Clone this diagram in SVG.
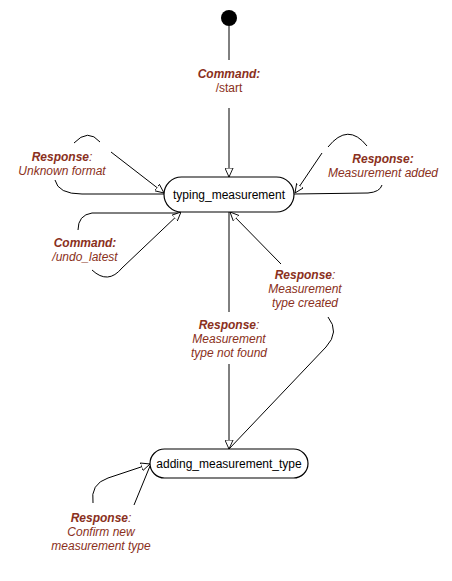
<svg xmlns="http://www.w3.org/2000/svg" width="452" height="581" viewBox="0 0 452 581">
<defs>
<marker id="arr" viewBox="0 0 10 10" refX="10" refY="5" markerWidth="9" markerHeight="9" markerUnits="userSpaceOnUse" orient="auto">
<path d="M0,0.5 L10,5 L0,9.5 Z" fill="#fff" stroke="#000" stroke-width="1"/>
</marker>
<style>
.node rect{fill:#fff;stroke:#000;stroke-width:1.2}
.node text{font-family:"Liberation Sans",Arial,sans-serif;font-size:12px;fill:#000;text-anchor:middle}
.edge{fill:none;stroke:#000;stroke-width:1}
.lbl{font-family:"Liberation Sans",Arial,sans-serif;font-size:12px;fill:#8a3020;text-anchor:middle;font-style:italic}
.b{font-weight:bold}
.n{font-style:normal}
</style>
</defs>
<rect width="452" height="581" fill="#fff"/>
<g id="connectors">
<path class="edge" d="M229,26 L229,60"/>
<path class="edge" d="M229,108 L229,177" marker-end="url(#arr)"/>
<path class="edge" d="M164,194 L82,194 Q58,194 55,180"/>
<path class="edge" d="M74,143 Q88,128 100,142"/>
<path class="edge" d="M111,152 L164,193" marker-end="url(#arr)"/>
<path class="edge" d="M294,194 L368,193 Q380,192 382,185"/>
<path class="edge" d="M328,147 Q348,122 367,146"/>
<path class="edge" d="M322,153 L295,193" marker-end="url(#arr)"/>
<path class="edge" d="M180,213 L92,213 Q78,215 78,230"/>
<path class="edge" d="M92,270 Q108,285 122,268 L181,212" marker-end="url(#arr)"/>
<path class="edge" d="M229,212 L229,312"/>
<path class="edge" d="M229,364 L229,449" marker-end="url(#arr)"/>
<path class="edge" d="M229,449 L326,347 Q340,332 328,317"/>
<path class="edge" d="M281,264 L230,212" marker-end="url(#arr)"/>
<path class="edge" d="M93,503 Q90,484 108,478 L150,464" marker-end="url(#arr)"/>
<path class="edge" d="M134,505 L150,466"/>
</g>
<g id="start"><circle cx="229" cy="18" r="8" fill="#000"/></g>
<g id="typing_measurement" class="node">
<rect x="164" y="177" width="130" height="35" rx="17.5"/>
<text x="229" y="199">typing_measurement</text>
</g>
<g id="adding_measurement_type" class="node">
<rect x="150" y="449" width="158" height="29" rx="14.5"/>
<text x="229" y="468">adding_measurement_type</text>
</g>
<g id="labels">
<text class="lbl" x="229" y="78"><tspan class="b">Command:</tspan></text>
<text class="lbl n" x="229" y="92">/start</text>
<text class="lbl" x="62" y="161"><tspan class="b">Response</tspan>:</text>
<text class="lbl" x="62" y="175">Unknown format</text>
<text class="lbl" x="383" y="163"><tspan class="b">Response:</tspan></text>
<text class="lbl" x="383" y="177">Measurement added</text>
<text class="lbl" x="85" y="247"><tspan class="b">Command:</tspan></text>
<text class="lbl" x="85" y="261">/undo_latest</text>
<text class="lbl" x="305" y="279"><tspan class="b">Response</tspan>:</text>
<text class="lbl" x="305" y="293">Measurement</text>
<text class="lbl" x="305" y="307">type created</text>
<text class="lbl" x="229" y="329"><tspan class="b">Response</tspan>:</text>
<text class="lbl" x="229" y="343">Measurement</text>
<text class="lbl" x="229" y="357">type not found</text>
<text class="lbl" x="101" y="522"><tspan class="b">Response</tspan>:</text>
<text class="lbl" x="101" y="536">Confirm new</text>
<text class="lbl" x="101" y="550">measurement type</text>
</g>
</svg>
